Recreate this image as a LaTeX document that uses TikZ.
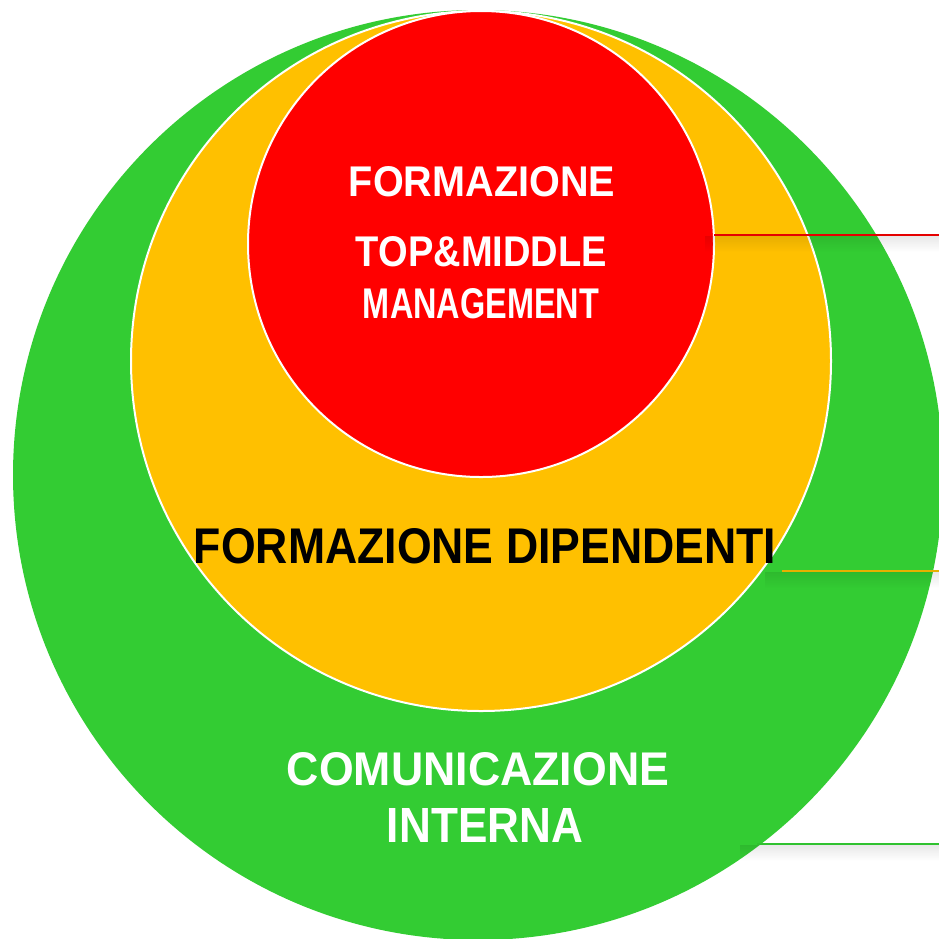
\documentclass[tikz,border=0pt]{standalone}
\usepackage{graphicx}
\usepackage{fontspec}
\setmainfont{Liberation Sans}
\usetikzlibrary{fadings}
\definecolor{cgreen}{HTML}{33CC33}
\definecolor{corange}{HTML}{FFC000}
\definecolor{cred}{HTML}{FF0000}
\definecolor{lorange}{HTML}{E6B000}
\tikzfading[name=shadowfade, top color=transparent!91, bottom color=transparent!100]
\tikzset{
  disc/.style={circle, inner sep=0pt, outer sep=0pt},
  lbl/.style={inner sep=0pt, font=\bfseries},
  leader/.style={line width=1.3pt},
}
\newcommand{\fitt}[3]{\resizebox{#1pt}{#2pt}{#3}}
\begin{document}
\begin{tikzpicture}[x=1pt,y=-1pt]
\useasboundingbox (0,0) rectangle (939,938);
\fill[white] (0,0) rectangle (939,938);
\node[disc, fill=cgreen, minimum size=930pt] (green) at (478,475) {};
\node[disc, fill=corange, draw=white, line width=2pt, minimum size=700pt] (orange) at (481,361) {};
\node[disc, fill=cred, draw=white, line width=2pt, minimum size=466pt] (red) at (481,244) {};
% shadows under leaders
\fill[black, path fading=shadowfade] (705,236) rectangle (939,252);
\fill[black, path fading=shadowfade] (765,572) rectangle (939,588);
\fill[black, path fading=shadowfade] (740,845) rectangle (939,861);
% leaders
\coordinate (redend) at (939,235);
\coordinate (orangestart) at (782,571);
\coordinate (orangeend) at (939,571);
\coordinate (greenstart) at (757,844);
\coordinate (greenend) at (939,844);
\draw[leader, draw=cred!90!black] (red.east |- redend) -- (redend);
\draw[leader, draw=lorange] (orangestart) -- (orangeend);
\draw[leader, draw=cgreen!95!black] (greenstart) -- (greenend);
% labels
\node[lbl, text=white] (t1) at (482,182) {\fitt{266}{30}{FORMAZIONE}};
\node[lbl, text=white] (t2) at (481.5,252) {\fitt{251}{30}{TOP\&MIDDLE}};
\node[lbl, text=white] (t3) at (481,304) {\fitt{236}{30}{MANAGEMENT}};
\node[lbl, text=black] (t4) at (485,546) {\fitt{582}{35}{FORMAZIONE DIPENDENTI}};
\node[lbl, text=white] (t5) at (478,769.5) {\fitt{382}{33}{COMUNICAZIONE}};
\node[lbl, text=white] (t6) at (485,825) {\fitt{196}{34}{INTERNA}};
\end{tikzpicture}
\end{document}
